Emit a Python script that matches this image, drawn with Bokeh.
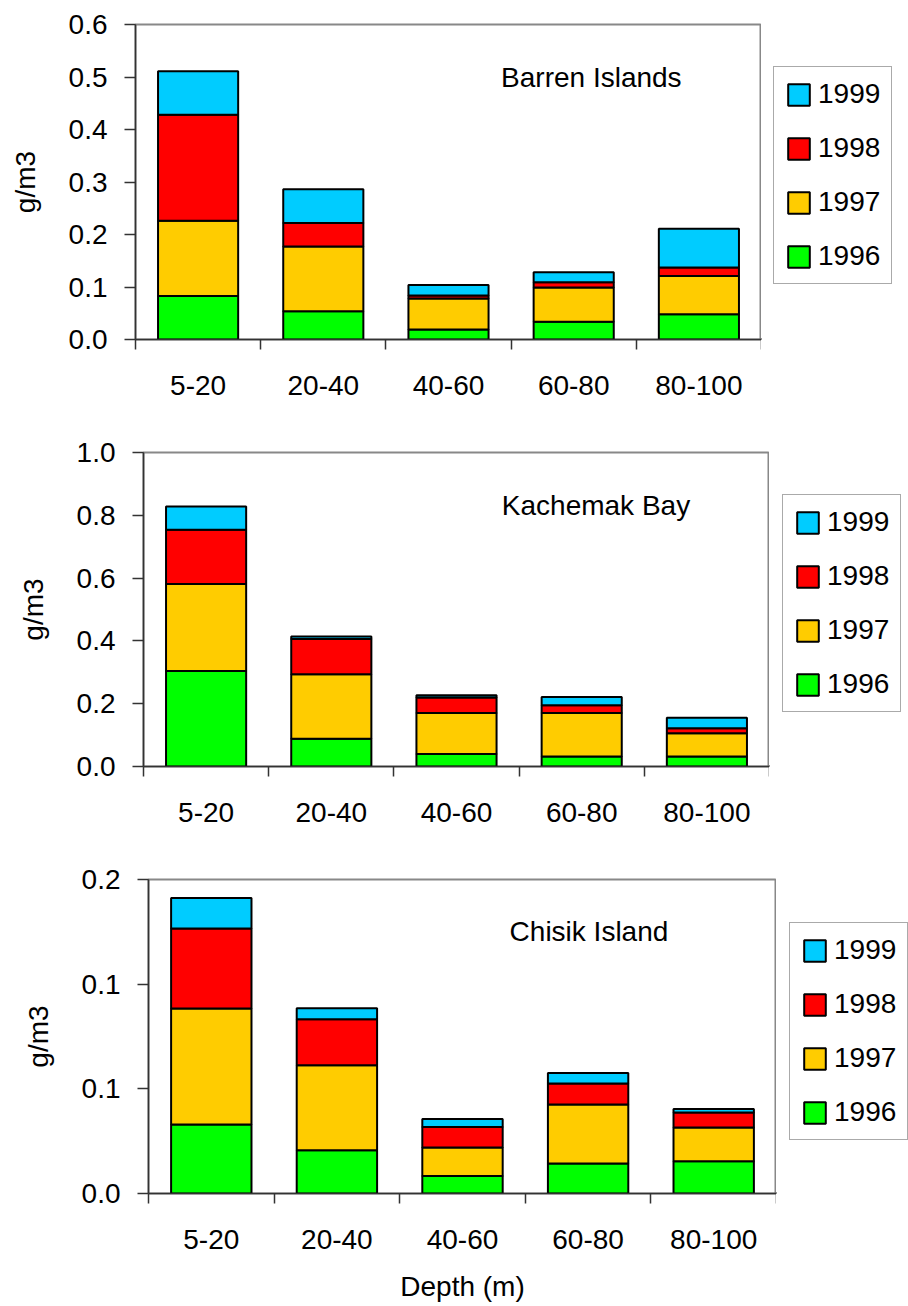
from bokeh.plotting import figure
from bokeh.models import (Range1d, FixedTicker, Legend, LegendItem, Label,
                          ColumnDataSource, Spacer)
from bokeh.layouts import column, row
from bokeh.embed import file_html
from bokeh.resources import INLINE

# ---------------- data ----------------
depths = ["5-20", "20-40", "40-60", "60-80", "80-100"]
years = ["1996", "1997", "1998", "1999"]
year_colors = ["#00FF00", "#FFCC00", "#FF0000", "#00CCFF"]

barren_1996 = [0.083, 0.054, 0.019, 0.034, 0.048]
barren_1997 = [0.143, 0.123, 0.059, 0.065, 0.073]
barren_1998 = [0.202, 0.045, 0.006, 0.010, 0.016]
barren_1999 = [0.083, 0.064, 0.020, 0.019, 0.074]
barren_yticks = [0.0, 0.1, 0.2, 0.3, 0.4, 0.5, 0.6]
barren_ylabels = ["0.0", "0.1", "0.2", "0.3", "0.4", "0.5", "0.6"]

kachemak_1996 = [0.304, 0.088, 0.040, 0.032, 0.032]
kachemak_1997 = [0.277, 0.206, 0.130, 0.138, 0.074]
kachemak_1998 = [0.173, 0.112, 0.050, 0.025, 0.016]
kachemak_1999 = [0.074, 0.008, 0.007, 0.026, 0.033]
kachemak_yticks = [0.0, 0.2, 0.4, 0.6, 0.8, 1.0]
kachemak_ylabels = ["0.0", "0.2", "0.4", "0.6", "0.8", "1.0"]

chisik_1996 = [0.0330, 0.0207, 0.0084, 0.0143, 0.0154]
chisik_1997 = [0.0554, 0.0406, 0.0136, 0.0282, 0.0161]
chisik_1998 = [0.0382, 0.0220, 0.0098, 0.0100, 0.0072]
chisik_1999 = [0.0146, 0.0052, 0.0038, 0.0051, 0.0017]
chisik_yticks = [0.0, 0.05, 0.10, 0.15]
chisik_ylabels = ["0.0", "0.1", "0.1", "0.2"]

FONT = "Liberation Sans"
FS = "28px"
BL = 135
PAGE_W = 908


def make_panel(title, series, yticks, ylabels, shift, height, bt, bb, plot_w,
               title_xy, legend_xy, xlabel=None):
    n = len(depths)
    x = [i + 0.5 for i in range(n)]
    data = {"x": x}
    for yr, s in zip(years, series):
        data["y" + yr] = s
    src = ColumnDataSource(data)

    main_w = BL + plot_w
    p = figure(width=main_w, height=height, output_backend="svg", toolbar_location=None,
               x_range=Range1d(0, n), y_range=Range1d(yticks[0], yticks[-1]),
               min_border_left=BL, min_border_right=0, min_border_top=bt,
               min_border_bottom=bb)
    p.background_fill_color = "white"
    p.border_fill_color = "white"
    p.outline_line_color = "#888888"
    p.outline_line_width = 2
    p.xgrid.visible = False
    p.ygrid.visible = False

    p.vbar_stack(["y" + yr for yr in years], x="x", width=0.64, source=src,
                 fill_color=year_colors, line_color="black", line_width=2)

    # x axis: labels at category centres, ticks at category boundaries
    xa = p.xaxis[0]
    xa.ticker = FixedTicker(ticks=x, minor_ticks=list(range(n + 1)))
    xa.major_label_overrides = {xv: d for xv, d in zip(x, depths)}
    xa.major_tick_out = 0
    xa.major_tick_in = 0
    xa.minor_tick_out = 10
    xa.minor_tick_in = 0
    xa.minor_tick_line_color = "#333333"
    xa.minor_tick_line_width = 1.5
    xa.axis_line_color = "#333333"
    xa.axis_line_width = 1.5
    xa.major_label_text_font = FONT
    xa.major_label_text_font_size = FS
    xa.major_label_text_color = "black"
    xa.major_label_standoff = 26
    if xlabel:
        xa.axis_label = xlabel
        xa.axis_label_text_font = FONT
        xa.axis_label_text_font_size = FS
        xa.axis_label_text_font_style = "normal"
        xa.axis_label_text_color = "black"
        xa.axis_label_standoff = 19

    ya = p.yaxis[0]
    ya.ticker = FixedTicker(ticks=yticks, minor_ticks=[])
    ya.major_label_overrides = {t: l for t, l in zip(yticks, ylabels)}
    ya.major_tick_out = 11
    ya.major_tick_in = 0
    ya.major_tick_line_color = "#333333"
    ya.major_tick_line_width = 1.5
    ya.axis_line_color = "#333333"
    ya.axis_line_width = 1.5
    ya.major_label_text_font = FONT
    ya.major_label_text_font_size = FS
    ya.major_label_text_color = "black"
    ya.major_label_standoff = 17
    ya.axis_label = "g/m3"
    ya.axis_label_text_font = FONT
    ya.axis_label_text_font_size = FS
    ya.axis_label_text_font_style = "normal"
    ya.axis_label_text_color = "black"
    ya.axis_label_standoff = 25

    p.add_layout(Label(x=title_xy[0], y=title_xy[1], text=title, text_font=FONT,
                       text_font_size=FS, text_color="black", text_baseline="alphabetic"))

    # legend lives in its own small figure to the right of the chart area
    leg_w = PAGE_W - shift - main_w
    q = figure(width=leg_w, height=height, output_backend="svg", toolbar_location=None,
               x_range=Range1d(0, 1), y_range=Range1d(0, 1),
               x_axis_location=None, y_axis_location=None,
               min_border_left=0, min_border_right=0, min_border_top=bt,
               min_border_bottom=bb)
    q.outline_line_color = None
    q.xgrid.visible = False
    q.ygrid.visible = False
    q.background_fill_color = "white"
    q.border_fill_color = "white"
    keys = []
    for yr, c in zip(years, year_colors):
        # legend key holder: one off-range point so the key swatch is drawn
        r = q.vbar(x=[-5], top=[0], width=0.5, fill_color=c, line_color="black",
                   line_width=2)
        keys.append(LegendItem(label=yr, renderers=[r]))
    leg = Legend(items=keys[::-1], location=legend_xy, orientation="vertical",
                 label_text_font=FONT, label_text_font_size=FS, label_text_color="black",
                 label_text_baseline="alphabetic",
                 glyph_width=27, glyph_height=27, label_standoff=6, label_height=27,
                 spacing=22, padding=11, margin=0,
                 border_line_color="#555555", border_line_width=1.5,
                 background_fill_color="white", background_fill_alpha=1.0)
    q.add_layout(leg)

    kids = [p, q]
    if shift:
        kids = [Spacer(width=shift, height=height)] + kids
    return row(*kids, spacing=0)


r1 = make_panel("Barren Islands",
                [barren_1996, barren_1997, barren_1998, barren_1999],
                barren_yticks, barren_ylabels,
                shift=0, height=430, bt=24, bb=91, plot_w=626,
                title_xy=(2.92, 0.499), legend_xy=(12, 55))
r2 = make_panel("Kachemak Bay",
                [kachemak_1996, kachemak_1997, kachemak_1998, kachemak_1999],
                kachemak_yticks, kachemak_ylabels,
                shift=8, height=430, bt=22, bb=94, plot_w=626,
                title_xy=(2.862, 0.831), legend_xy=(13, 54))
r3 = make_panel("Chisik Island",
                [chisik_1996, chisik_1997, chisik_1998, chisik_1999],
                chisik_yticks, chisik_ylabels,
                shift=13, height=446, bt=19, bb=113, plot_w=628,
                title_xy=(2.875, 0.125), legend_xy=(13, 53), xlabel="Depth (m)")

layout = column(r1, r2, r3, spacing=0)
open("out.html", "w").write(file_html(layout, INLINE))
